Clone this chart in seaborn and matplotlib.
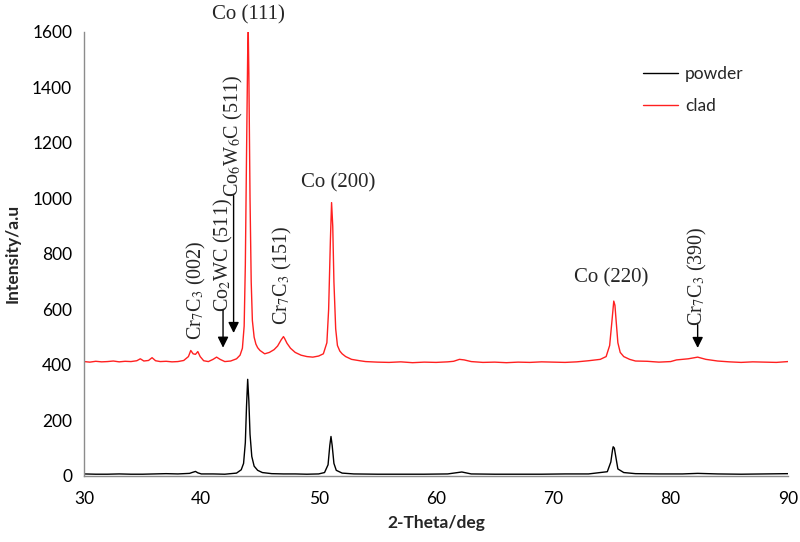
import matplotlib
matplotlib.use("Agg")
import matplotlib.pyplot as plt
import seaborn as sns
import pandas as pd

# ---- data ----
clad_theta = [30.0, 30.5, 31.0, 31.5, 32.0, 32.5, 33.0, 33.5, 34.0, 34.5, 34.8, 35.1, 35.5, 35.8, 36.1,
              36.5, 37.0, 37.5, 38.0, 38.5, 38.9, 39.1, 39.3, 39.5, 39.7, 39.9, 40.2, 40.6, 41.0, 41.3,
              41.6, 42.0, 42.5, 43.0, 43.3, 43.5, 43.65, 43.75, 43.85, 43.95, 44.0, 44.05, 44.15, 44.25,
              44.35, 44.5, 44.65, 44.8, 45.0, 45.4, 45.8, 46.2, 46.5, 46.8, 47.0, 47.1, 47.3, 47.6, 48.0,
              48.5, 49.0, 49.5, 50.0, 50.4, 50.7, 50.85, 51.0, 51.1, 51.2, 51.3, 51.45, 51.6, 51.8, 52.0,
              52.3, 52.8, 53.5, 54.0, 55.0, 56.0, 57.0, 58.0, 59.0, 60.0, 61.0, 61.5, 62.0, 62.4, 63.0,
              64.0, 65.0, 66.0, 67.0, 68.0, 69.0, 70.0, 71.0, 72.0, 73.0, 74.0, 74.5, 74.8, 75.0, 75.15,
              75.25, 75.35, 75.5, 75.7, 76.0, 76.5, 77.0, 78.0, 79.0, 80.0, 80.5, 81.5, 82.3, 83.0, 84.0,
              85.0, 86.0, 87.0, 88.0, 89.0, 90.0]
clad_intensity = [412, 410, 413, 411, 412, 414, 411, 413, 412, 415, 422, 414, 416, 426, 415,
                  412, 413, 411, 412, 416, 430, 452, 440, 438, 448, 430, 415, 412, 420, 428,
                  420, 412, 414, 422, 435, 460, 540, 760, 1150, 1520, 1600, 1450, 1000, 700,
                  560, 500, 475, 462, 452, 440, 445, 455, 468, 490, 502, 495, 478, 460, 445,
                  435, 430, 428, 432, 440, 480, 600, 850, 985, 900, 700, 530, 470, 450, 440,
                  430, 420, 415, 412, 410, 409, 411, 408, 410, 409, 411, 413, 420, 418, 412,
                  409, 410, 408, 410, 409, 411, 410, 409, 411, 415, 420, 430, 470, 560, 630,
                  615, 560, 480, 445, 430, 420, 414, 413, 410, 412, 418, 422, 428, 420, 414,
                  411, 409, 411, 410, 409, 412]

powder_theta = [30.0, 31.0, 32.0, 33.0, 34.0, 35.0, 36.0, 37.0, 38.0, 39.0, 39.2, 39.5, 39.7, 40.0,
                41.0, 42.0, 43.0, 43.4, 43.6, 43.75, 43.85, 43.95, 44.05, 44.15, 44.3, 44.5, 44.8,
                45.2, 46.0, 47.0, 48.0, 49.0, 50.0, 50.5, 50.8, 50.95, 51.05, 51.15, 51.3, 51.5, 52.0,
                53.0, 55.0, 57.0, 59.0, 61.0, 62.2, 63.0, 65.0, 67.0, 69.0, 71.0, 73.0, 74.6, 74.9,
                75.05, 75.1, 75.2, 75.3, 75.5, 76.0, 77.0, 79.0, 81.0, 82.3, 84.0, 86.0, 88.0, 90.0]
powder_intensity = [7, 6, 6, 7, 6, 6, 7, 8, 7, 9, 12, 16, 11, 7,
                    7, 6, 10, 22, 45, 120, 250, 348, 270, 150, 70, 35, 20,
                    12, 8, 7, 7, 6, 7, 12, 40, 110, 142, 110, 45, 20, 10,
                    7, 6, 6, 6, 7, 14, 7, 6, 6, 6, 7, 7, 15, 50,
                    95, 105, 100, 75, 25, 12, 8, 7, 7, 9, 7, 6, 7, 8]

series_names = ["powder", "clad"]
series_colors = ["black", "#ff2020"]

peak_labels = ["Co (111)", "Co (200)", "Co (220)"]
peak_pos = [(44.0, 1628), (51.65, 1022), (74.9, 680)]

vlabels = [r"Cr$_7$C$_3$ (002)", r"Co$_2$WC (511)", r"Co$_6$W$_6$C (511)",
           r"Cr$_7$C$_3$ (151)", r"Cr$_7$C$_3$ (390)"]
vlabel_x = [39.6, 41.85, 42.75, 46.95, 82.3]
vlabel_bottom = [490, 592, 1005, 544, 540]
arrow_tip = [None, 462, 515, None, 461]

xticks = [30, 40, 50, 60, 70, 80, 90]
yticks = [0, 200, 400, 600, 800, 1000, 1200, 1400, 1600]

# ---- build frame ----
df = pd.concat([
    pd.DataFrame({"theta": powder_theta, "intensity": powder_intensity, "sample": "powder"}),
    pd.DataFrame({"theta": clad_theta, "intensity": clad_intensity, "sample": "clad"}),
], ignore_index=True)

sns.set_style("white")
plt.rcParams["font.family"] = ["Lato", "DejaVu Sans"]
plt.rcParams["mathtext.fontset"] = "stix"

fig = plt.figure(figsize=(8.0, 5.42), dpi=100)
ax = fig.add_axes([0.105, 0.122, 0.88, 0.819])

sns.lineplot(data=df, x="theta", y="intensity", hue="sample", hue_order=series_names,
             palette=series_colors, linewidth=1.0, ax=ax, sort=False)

ax.set_xlim(30, 90)
ax.set_ylim(0, 1600)
ax.set_xticks(xticks)
ax.set_yticks(yticks)
ax.tick_params(axis="both", labelsize=12.5, colors="black", length=5, width=1,
               direction="out", color="#8c8c8c")
ax.tick_params(axis="x", pad=6)
for s in ["top", "right"]:
    ax.spines[s].set_visible(False)
for s in ["left", "bottom"]:
    ax.spines[s].set_color("#8c8c8c")
    ax.spines[s].set_linewidth(1)

ax.set_xlabel("2-Theta/deg", fontsize=12.5, fontweight="bold", labelpad=6)
ax.set_ylabel("Intensity/a.u", fontsize=12.5, fontweight="bold", labelpad=8)

leg = ax.legend(loc="upper left", bbox_to_anchor=(0.772, 0.958), frameon=False,
                fontsize=12.5, handlelength=2.0, handletextpad=0.4, labelspacing=0.9, title=None)

serif = ["Liberation Serif", "DejaVu Serif"]
for lab, (px, py) in zip(peak_labels, peak_pos):
    ax.text(px, py, lab, ha="center", va="bottom", fontsize=15, family=serif, clip_on=False)

for lab, x, yb, tip in zip(vlabels, vlabel_x, vlabel_bottom, arrow_tip):
    ax.text(x, yb, lab, rotation=90, ha="center", va="bottom", fontsize=14.5, family=serif)
    if tip is not None:
        ax.annotate("", xy=(x, tip), xytext=(x, yb + 5),
                    arrowprops=dict(arrowstyle="-|>", color="black", lw=1.0,
                                    mutation_scale=16, shrinkA=0, shrinkB=0))

fig.savefig("out.png", dpi=100)
